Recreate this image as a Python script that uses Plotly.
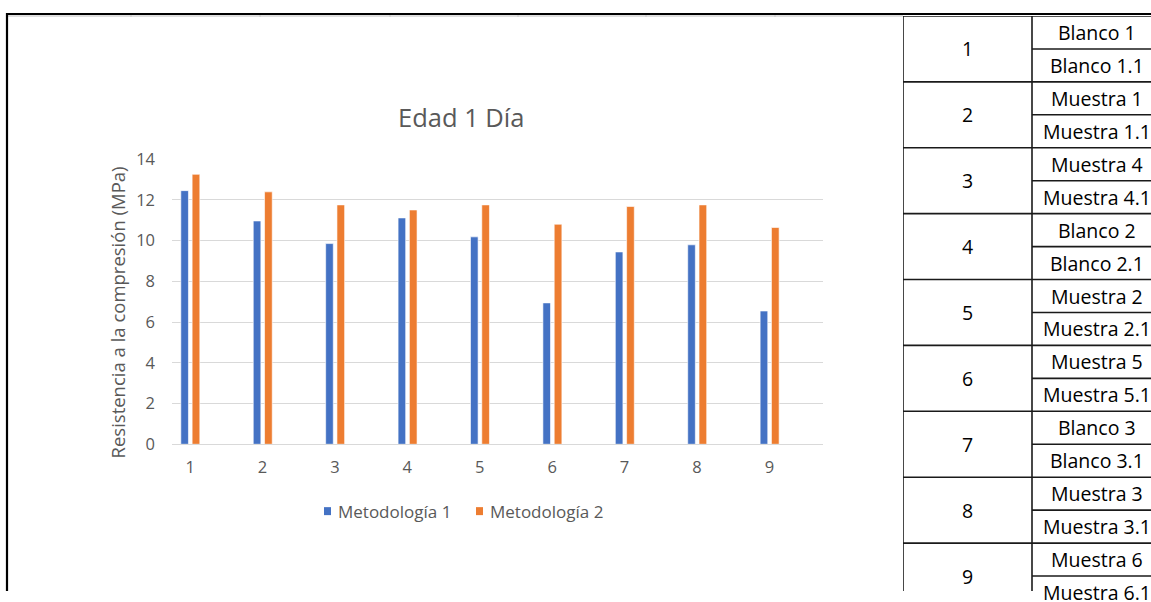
import plotly.graph_objects as go

# --- chart data -------------------------------------------------------------
categorias = [1, 2, 3, 4, 5, 6, 7, 8, 9]
metodologia_1 = [12.45, 10.96, 9.85, 11.11, 10.18, 6.94, 9.44, 9.79, 6.54]
metodologia_2 = [13.25, 12.39, 11.75, 11.50, 11.75, 10.80, 11.67, 11.75, 10.64]
y_ticks = [0, 2, 4, 6, 8, 10, 12, 14]

# --- side table data ----------------------------------------------------------
grupos = ["1", "2", "3", "4", "5", "6", "7", "8", "9"]
muestras = [
    "Blanco 1", "Blanco 1.1", "Muestra 1", "Muestra 1.1", "Muestra 4", "Muestra 4.1",
    "Blanco 2", "Blanco 2.1", "Muestra 2", "Muestra 2.1", "Muestra 5", "Muestra 5.1",
    "Blanco 3", "Blanco 3.1", "Muestra 3", "Muestra 3.1", "Muestra 6", "Muestra 6.1",
]

W, H = 1151, 602
GREY_TEXT = "#595959"
GRID = "#d9d9d9"
FONT = "Open Sans"
BLUE, ORANGE = "#4472C4", "#ED7D31"

# page offset/height of the drawing surface, in screen pixels
TOP_OFF, SURF_H = 12.0, 580.0


def px(x):
    return x / W


def py(y):
    return 1 - (y - TOP_OFF) / SURF_H


fig = go.Figure()

fig.add_trace(go.Bar(
    x=categorias, y=metodologia_1, name="Metodología 1",
    marker=dict(color=BLUE, line=dict(color="white", width=0.6)),
    offset=-0.128, width=0.105, showlegend=False,
))
fig.add_trace(go.Bar(
    x=categorias, y=metodologia_2, name="Metodología 2",
    marker=dict(color=ORANGE, line=dict(color="white", width=0.6)),
    offset=0.028, width=0.106, showlegend=False,
))

# table drawn on its own hidden axis pair: one unit = one column / one row
COL_W, ROW_H = 129, 33
TABLE_LEFT, TABLE_TOP, TABLE_BOTTOM = 903, 16, TOP_OFF + SURF_H
n_rows = len(muestras)
fig.add_trace(go.Scatter(x=[0], y=[0], xaxis="x2", yaxis="y2", mode="markers",
                         marker=dict(opacity=0), showlegend=False, hoverinfo="skip"))

shapes = []
# sheet frame
shapes.append(dict(type="line", xref="paper", yref="paper", x0=px(7), x1=px(TABLE_LEFT),
                   y0=py(16), y1=py(16), line=dict(color="#d4d4d4", width=1.5)))
for gx in [131, 260, 390, 518, 646, 775]:
    shapes.append(dict(type="line", xref="paper", yref="paper", x0=px(gx), x1=px(gx),
                       y0=py(14), y1=py(17), line=dict(color="#c8c8c8", width=1)))
shapes.append(dict(type="line", xref="paper", yref="paper", x0=px(6), x1=1,
                   y0=py(14), y1=py(14), line=dict(color="black", width=2.2)))
shapes.append(dict(type="line", xref="paper", yref="paper", x0=px(7), x1=px(7),
                   y0=py(13), y1=0, line=dict(color="black", width=2.2)))

# table grid
for r in range(n_rows + 1):
    x_start = 0 if r % 2 == 0 else 1
    shapes.append(dict(type="line", xref="x2", yref="y2", x0=x_start, x1=2.2, y0=r, y1=r,
                       line=dict(color="#1a1a1a", width=1.6)))
for c in [0, 1, 2]:
    shapes.append(dict(type="line", xref="x2", yref="y2", x0=c, x1=c, y0=0, y1=n_rows + 1,
                       line=dict(color="#1a1a1a", width=1.6)))


def row_y(r):
    """Paper y of a (fractional) table row, measured from the table top."""
    return py(TABLE_TOP + r * ROW_H)


annotations = []
for i, g in enumerate(grupos):
    annotations.append(dict(x=px(TABLE_LEFT + 0.5 * COL_W), y=row_y(2 * i + 1),
                            xref="paper", yref="paper", text=g, showarrow=False,
                            xanchor="center", yanchor="middle",
                            font=dict(family=FONT, size=19.5, color="black")))
for j, m in enumerate(muestras):
    annotations.append(dict(x=px(TABLE_LEFT + 1.5 * COL_W), y=row_y(j + 0.5),
                            xref="paper", yref="paper", text=m, showarrow=False,
                            xanchor="center", yanchor="middle",
                            font=dict(family=FONT, size=19.5, color="black")))

# chart title and y-axis title
annotations.append(dict(x=px(461), y=py(117), xref="paper", yref="paper", text="Edad 1 Día",
                        showarrow=False, xanchor="center", yanchor="middle",
                        font=dict(family=FONT, size=25.5, color=GREY_TEXT)))
annotations.append(dict(x=px(117), y=py(313), xref="paper", yref="paper",
                        text="Resistencia a la compresión (MPa)", textangle=-90,
                        showarrow=False, xanchor="center", yanchor="middle",
                        font=dict(family=FONT, size=18.5, color=GREY_TEXT)))

# legend: small colour keys followed by the series names
legend_y = 512
for name, color, key_x in [("Metodología 1", BLUE, 324), ("Metodología 2", ORANGE, 476)]:
    shapes.append(dict(type="rect", xref="paper", yref="paper",
                       x0=px(key_x), x1=px(key_x + 7), y0=py(legend_y + 4), y1=py(legend_y - 4),
                       fillcolor=color, line=dict(width=0)))
    annotations.append(dict(x=px(key_x + 12), y=py(legend_y), xref="paper", yref="paper",
                            text=name, showarrow=False, xanchor="left", yanchor="middle",
                            font=dict(family=FONT, size=17, color=GREY_TEXT)))

fig.update_layout(
    width=W, height=H,
    margin=dict(l=0, r=0, t=0, b=0),
    paper_bgcolor="white", plot_bgcolor="white",
    barmode="overlay",
    showlegend=False,
    xaxis=dict(domain=[px(172), px(823)], range=[0.75, 9.74], tickmode="array",
               tickvals=categorias, ticktext=[str(c) for c in categorias],
               showgrid=False, zeroline=False, showline=True, linecolor=GRID, linewidth=1,
               ticks="", ticklabelstandoff=8,
               tickfont=dict(family=FONT, size=16.5, color=GREY_TEXT), fixedrange=True),
    yaxis=dict(domain=[py(445), py(159.3)], range=[0, 14], tickmode="array", tickvals=y_ticks,
               showgrid=True, gridcolor=GRID, gridwidth=1, zeroline=False, showline=False,
               ticks="", ticklabelstandoff=16,
               tickfont=dict(family=FONT, size=16.5, color=GREY_TEXT), fixedrange=True),
    xaxis2=dict(domain=[px(TABLE_LEFT), 1], range=[0, (W - TABLE_LEFT) / COL_W], visible=False,
                anchor="y2", fixedrange=True),
    yaxis2=dict(domain=[0, py(TABLE_TOP)], range=[(TABLE_BOTTOM - TABLE_TOP) / ROW_H, 0],
                visible=False, anchor="x2", fixedrange=True),
    shapes=shapes,
    annotations=annotations,
)

fig.write_html("out.html")
